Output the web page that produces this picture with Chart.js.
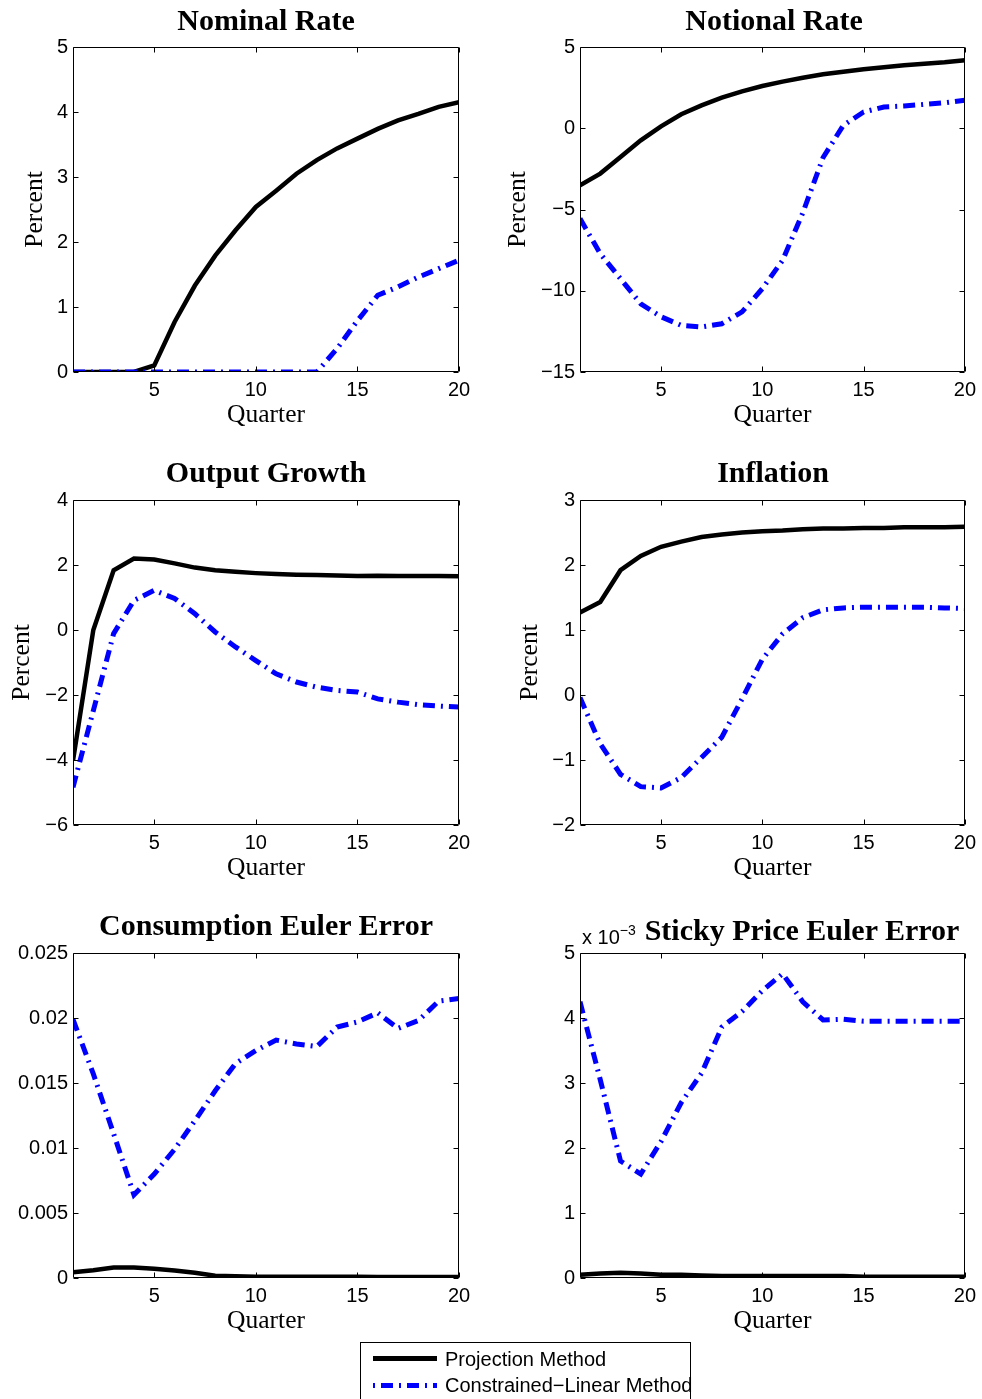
<!DOCTYPE html>
<html>
<head>
<meta charset="utf-8">
<script src="https://cdn.jsdelivr.net/npm/chart.js@4.4.0/dist/chart.umd.min.js"></script>
<style>
  body { margin: 0; background: #fff; width: 982px; height: 1399px; overflow: hidden; position: relative; }
  .panel { position: absolute; }
  .title { position: absolute; font: bold 30px "Liberation Serif", "Times New Roman", serif; line-height: 30px;
           white-space: nowrap; transform: translateX(-50%); color: #000; }
  .expo { position: absolute; left: 582px; top: 927px; font: 20px "Liberation Sans", Arial, sans-serif; line-height: 20px; }
  .expo span { font-size: 14px; position: relative; top: -9px; }
  #legend { position: absolute; left: 360px; top: 1342px; width: 329px; height: 70px; border: 1px solid #000; background: #fff; }
  #legend canvas { position: absolute; left: 0; top: 0; }
  #legend .row { position: absolute; left: 84px; font: 20px "Liberation Sans", Arial, sans-serif; line-height: 20px; white-space: nowrap; }
</style>
</head>
<body>

<script>
// quarters after the shock
const quarters = [1, 2, 3, 4, 5, 6, 7, 8, 9, 10, 11, 12, 13, 14, 15, 16, 17, 18, 19, 20];
const xTickValues = [5, 10, 15, 20];

// projection method (black solid) and constrained-linear method (blue dash-dot)
const nominalProjection = [0, 0, 0, 0, 0.1, 0.77, 1.33, 1.79, 2.18, 2.54, 2.79, 3.05, 3.26, 3.44, 3.59, 3.74, 3.87, 3.97, 4.08, 4.15];
const nominalConstrained = [0, 0, 0, 0, 0, 0, 0, 0, 0, 0, 0, 0, 0, 0.36, 0.79, 1.18, 1.31, 1.46, 1.59, 1.72];

const notionalProjection = [-3.51, -2.79, -1.77, -0.74, 0.12, 0.86, 1.41, 1.88, 2.27, 2.6, 2.87, 3.11, 3.32, 3.48, 3.63, 3.75, 3.87, 3.97, 4.06, 4.18];
const notionalConstrained = [-5.56, -7.72, -9.26, -10.8, -11.6, -12.13, -12.23, -12.03, -11.3, -9.87, -8.13, -5.2, -1.8, 0.18, 1.0, 1.31, 1.37, 1.47, 1.57, 1.72];

const outputProjection = [-4.02, 0, 1.84, 2.2, 2.17, 2.05, 1.92, 1.84, 1.79, 1.75, 1.72, 1.7, 1.69, 1.68, 1.66, 1.67, 1.66, 1.66, 1.66, 1.65];
const outputConstrained = [-4.84, -2.48, -0.11, 0.91, 1.22, 0.97, 0.5, -0.06, -0.52, -0.94, -1.35, -1.6, -1.76, -1.86, -1.91, -2.12, -2.22, -2.3, -2.34, -2.37];

const inflationProjection = [1.27, 1.43, 1.92, 2.14, 2.28, 2.36, 2.43, 2.47, 2.5, 2.52, 2.53, 2.55, 2.56, 2.56, 2.57, 2.57, 2.58, 2.58, 2.58, 2.59];
const inflationConstrained = [-0.04, -0.75, -1.22, -1.41, -1.43, -1.27, -0.96, -0.65, -0.06, 0.55, 0.94, 1.19, 1.31, 1.34, 1.35, 1.35, 1.35, 1.35, 1.34, 1.33];

const consumptionProjection = [0.00044, 0.0006, 0.0008, 0.0008, 0.00072, 0.00057, 0.0004, 0.00018, 0.00013, 0.0001, 0.0001, 0.0001, 0.00009, 0.00009, 0.00009, 0.00008, 0.00008, 0.00008, 0.00008, 0.00008];
const consumptionConstrained = [0.0199, 0.0157, 0.0111, 0.0064, 0.008, 0.0099, 0.0121, 0.0144, 0.0165, 0.0175, 0.0183, 0.018, 0.0178, 0.0193, 0.0197, 0.0204, 0.0192, 0.0198, 0.0213, 0.0215];

// sticky price error, in units of 10^-3
const stickyProjection = [0.05, 0.07, 0.08, 0.07, 0.05, 0.05, 0.04, 0.03, 0.03, 0.03, 0.03, 0.03, 0.03, 0.03, 0.02, 0.02, 0.02, 0.02, 0.02, 0.02];
const stickyConstrained = [4.25, 3.05, 1.8, 1.6, 2.1, 2.7, 3.15, 3.86, 4.1, 4.42, 4.68, 4.25, 3.97, 3.98, 3.95, 3.95, 3.95, 3.95, 3.95, 3.95];

// y tick labels for each panel
const nominalTicks = [0, 1, 2, 3, 4, 5];
const notionalTicks = [-15, -10, -5, 0, 5];
const outputTicks = [-6, -4, -2, 0, 2, 4];
const inflationTicks = [-2, -1, 0, 1, 2, 3];
const consumptionTicks = [0, 0.005, 0.01, 0.015, 0.02, 0.025];
const stickyTicks = [0, 1, 2, 3, 4, 5];

const BLUE_DASH = [12, 6, 2, 6];
const TICK_FONT = { family: 'Liberation Sans', size: 20 };
const LABEL_FONT = { family: 'Liberation Serif', size: 25.5 };

function fmt(v) {
    return String(+v.toFixed(4)).replace('-', '\u2212');
}

// MATLAB style box with inward tick marks
const framePlugin = {
    id: 'frame',
    afterDatasetsDraw(chart) {
        const { ctx, chartArea: a, scales } = chart;
        const l = Math.round(a.left) + 0.5, r = Math.round(a.right) - 0.5;
        const t = Math.round(a.top) + 0.5, b = Math.round(a.bottom) - 0.5;
        ctx.save();
        ctx.strokeStyle = '#000';
        ctx.lineWidth = 1;
        ctx.beginPath();
        ctx.rect(l, t, r - l, b - t);
        scales.x.ticks.forEach(tk => {
            const px = Math.round(scales.x.getPixelForValue(tk.value)) + 0.5;
            ctx.moveTo(px, b); ctx.lineTo(px, b - 5);
            ctx.moveTo(px, t); ctx.lineTo(px, t + 5);
        });
        scales.y.ticks.forEach(tk => {
            const py = Math.round(scales.y.getPixelForValue(tk.value)) + 0.5;
            ctx.moveTo(l, py); ctx.lineTo(l + 5, py);
            ctx.moveTo(r, py); ctx.lineTo(r - 5, py);
        });
        ctx.stroke();
        ctx.restore();
    }
};

const panels = [
    { title: 'Nominal Rate', left: 0, top: 0, tx: 266, ty: 20, proj: nominalProjection, cl: nominalConstrained, yTicks: nominalTicks, yTitle: 'Percent', yPad: 19.7 },
    { title: 'Notional Rate', left: 491, top: 0, tx: 774, ty: 20, proj: notionalProjection, cl: notionalConstrained, yTicks: notionalTicks, yTitle: 'Percent', yPad: 11.7 },
    { title: 'Output Growth', left: 0, top: 453, tx: 266, ty: 472, proj: outputProjection, cl: outputConstrained, yTicks: outputTicks, yTitle: 'Percent', yPad: 6.7 },
    { title: 'Inflation', left: 491, top: 453, tx: 773, ty: 472, proj: inflationProjection, cl: inflationConstrained, yTicks: inflationTicks, yTitle: 'Percent', yPad: 23.7 },
    { title: 'Consumption Euler Error', left: 0, top: 906, tx: 266, ty: 925, proj: consumptionProjection, cl: consumptionConstrained, yTicks: consumptionTicks, yTitle: '', yPad: 0 },
    { title: 'Sticky Price Euler Error', left: 491, top: 906, tx: 802, ty: 930, proj: stickyProjection, cl: stickyConstrained, yTicks: stickyTicks, yTitle: '', yPad: 0 }
];

panels.forEach(p => {
    const canvas = document.createElement('canvas');
    canvas.className = 'panel';
    canvas.width = 491;
    canvas.height = 453;
    canvas.style.left = p.left + 'px';
    canvas.style.top = p.top + 'px';
    document.body.appendChild(canvas);

    const title = document.createElement('div');
    title.className = 'title';
    title.textContent = p.title;
    title.style.left = p.tx + 'px';
    title.style.top = (p.ty - 15) + 'px';
    document.body.appendChild(title);

    const rightCol = p.left > 0;
    new Chart(canvas.getContext('2d'), {
        type: 'line',
        data: {
            datasets: [
                {
                    label: 'Projection Method',
                    data: quarters.map((q, i) => ({ x: q, y: p.proj[i] })),
                    borderColor: '#000',
                    borderWidth: 4.5,
                    pointRadius: 0,
                    clip: 0,
                    order: 1
                },
                {
                    label: 'Constrained\u2212Linear Method',
                    data: quarters.map((q, i) => ({ x: q, y: p.cl[i] })),
                    borderColor: '#0000ff',
                    borderWidth: 5,
                    borderDash: BLUE_DASH,
                    pointRadius: 0,
                    clip: 0,
                    order: 0
                }
            ]
        },
        options: {
            responsive: false,
            animation: false,
            devicePixelRatio: 1,
            events: [],
            layout: { padding: { top: 47, left: 0, right: rightCol ? 16 : 32, bottom: 0 } },
            plugins: { legend: { display: false }, title: { display: false }, tooltip: { enabled: false } },
            scales: {
                x: {
                    type: 'linear',
                    min: 1,
                    max: 20,
                    afterBuildTicks: s => { s.ticks = xTickValues.map(v => ({ value: v })); },
                    afterFit: s => { s.height = 81; },
                    grid: { display: false, drawTicks: false },
                    border: { display: false },
                    ticks: { padding: 6, maxRotation: 0, color: '#000', font: TICK_FONT, callback: v => fmt(v) },
                    title: { display: true, text: 'Quarter', color: '#000', font: LABEL_FONT, padding: { top: 0, bottom: 22.7 } }
                },
                y: {
                    type: 'linear',
                    min: p.yTicks[0],
                    max: p.yTicks[p.yTicks.length - 1],
                    afterBuildTicks: s => { s.ticks = p.yTicks.map(v => ({ value: v })); },
                    afterFit: s => { s.width = rightCol ? 89 : 73; },
                    grid: { display: false, drawTicks: false },
                    border: { display: false },
                    ticks: { padding: 5, color: '#000', font: TICK_FONT, callback: v => fmt(v) },
                    title: { display: p.yTitle !== '', text: p.yTitle, color: '#000', font: LABEL_FONT, padding: { top: p.yPad, bottom: 0 } }
                }
            }
        },
        plugins: [framePlugin]
    });
});
</script>

<div class="expo">x 10<span>&minus;3</span></div>

<div id="legend">
  <canvas id="legendLines" width="90" height="60"></canvas>
  <div class="row" style="top:6px">Projection Method</div>
  <div class="row" style="top:32px">Constrained&minus;Linear Method</div>
</div>

<script>
const lctx = document.getElementById('legendLines').getContext('2d');
lctx.lineCap = 'butt';
lctx.strokeStyle = '#000';
lctx.lineWidth = 5;
lctx.beginPath(); lctx.moveTo(12, 15.5); lctx.lineTo(76, 15.5); lctx.stroke();
lctx.strokeStyle = '#0000ff';
lctx.setLineDash([2, 6, 12, 6]);
lctx.beginPath(); lctx.moveTo(12, 42.5); lctx.lineTo(76, 42.5); lctx.stroke();
</script>
</body>
</html>
